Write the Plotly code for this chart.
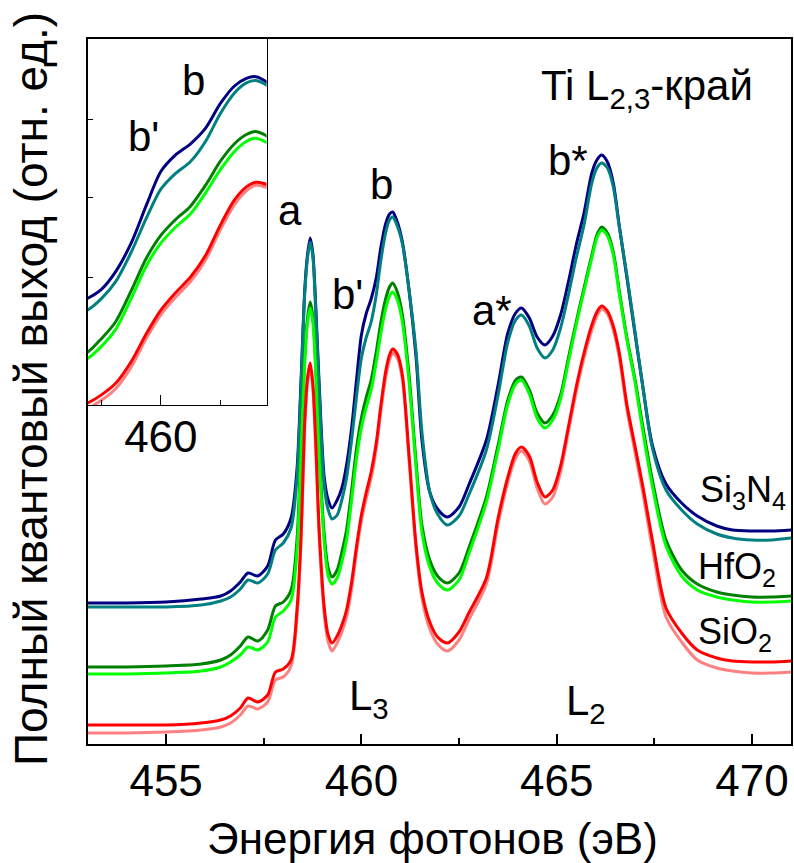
import plotly.graph_objects as go

# Photon energy grid (eV)
energy = [453.0, 454.0, 455.0, 455.9, 456.4, 456.65, 456.9, 457.1, 457.35, 457.6,
          457.8, 458.0, 458.2, 458.35, 458.45, 458.55, 458.62, 458.69, 458.76, 458.83,
          458.92, 459.05, 459.15, 459.25, 459.38, 459.5, 459.62, 459.75, 459.88, 460.0,
          460.12, 460.25, 460.38, 460.5, 460.62, 460.72, 460.8, 460.92, 461.05, 461.22,
          461.4, 461.55, 461.75, 461.95, 462.2, 462.5, 462.75, 463.2, 463.5, 463.75,
          463.95, 464.1, 464.3, 464.5, 464.7, 464.9, 465.1, 465.3, 465.5, 465.7,
          465.9, 466.03, 466.15, 466.3, 466.45, 466.6, 466.8, 467.0, 467.2, 467.45,
          467.8, 468.2, 468.6, 469.1, 469.5, 470.0, 470.5, 471.0]

# Total electron yield (arb. units, curves offset vertically)
si3n4_1 = [141, 141, 142, 145, 148, 153, 162, 171, 168, 178,
           204, 210, 226, 274, 359, 454, 489, 506, 489, 439,
           359, 266, 244, 236, 244, 256, 279, 316, 366, 409,
           430, 445, 466, 497, 520, 530, 532, 522, 502, 454,
           387, 304, 252, 235, 227, 237, 259, 304, 359, 411,
           431, 436, 426, 407, 399, 408, 429, 462, 499, 531,
           571, 584, 589, 582, 561, 519, 466, 412, 359, 299,
           260, 241, 228, 218, 214, 213, 213, 214]
si3n4_2 = [137, 137, 137, 139, 143, 147, 155, 164, 161, 170,
           194, 201, 216, 266, 354, 451, 486, 502, 486, 434,
           352, 258, 234, 225, 229, 244, 266, 304, 349, 386,
           406, 422, 449, 484, 511, 524, 527, 518, 500, 454,
           392, 312, 252, 230, 219, 228, 249, 294, 349, 402,
           424, 429, 418, 396, 386, 394, 416, 449, 486, 519,
           561, 576, 581, 576, 557, 518, 468, 414, 359, 296,
           254, 234, 220, 210, 206, 204, 204, 206]
hfo2_1 = [77, 77, 78, 80, 84, 89, 98, 107, 103, 114,
          138, 142, 154, 204, 294, 389, 426, 442, 426, 379,
          294, 209, 176, 167, 174, 192, 214, 254, 297, 326,
          346, 364, 392, 422, 445, 457, 461, 452, 429, 369,
          282, 219, 184, 168, 161, 171, 196, 247, 299, 344,
          364, 367, 354, 331, 321, 329, 349, 386, 422, 456,
          489, 509, 517, 511, 492, 454, 406, 366, 319, 264,
          204, 174, 160, 152, 149, 147, 147, 148]
hfo2_2 = [70, 70, 71, 73, 77, 82, 89, 97, 94, 102,
          127, 133, 144, 192, 286, 382, 421, 436, 421, 374,
          286, 201, 168, 160, 166, 182, 204, 244, 287, 316,
          336, 354, 382, 411, 435, 448, 452, 444, 422, 362,
          276, 212, 177, 161, 154, 164, 190, 242, 294, 340,
          360, 364, 350, 326, 316, 324, 345, 382, 419, 453,
          486, 506, 514, 508, 489, 451, 404, 363, 314, 258,
          198, 168, 154, 147, 144, 142, 142, 143]
sio2_1 = [19, 19, 19, 21, 24, 28, 36, 46, 42, 49,
          72, 75, 84, 134, 204, 324, 366, 381, 359, 304,
          214, 136, 109, 101, 108, 119, 134, 162, 199, 229,
          251, 272, 301, 339, 372, 389, 395, 390, 369, 289,
          199, 152, 122, 107, 101, 112, 131, 166, 226, 267,
          291, 297, 288, 262, 247, 254, 278, 317, 357, 391,
          419, 432, 438, 433, 418, 392, 339, 299, 259, 204,
          136, 111, 94, 86, 83, 82, 82, 83]
sio2_2 = [11, 11, 12, 14, 17, 21, 29, 38, 35, 42,
          64, 67, 78, 126, 196, 316, 361, 376, 354, 297,
          206, 129, 102, 93, 101, 112, 127, 155, 193, 223,
          245, 266, 295, 333, 366, 384, 391, 386, 364, 284,
          194, 146, 115, 100, 93, 104, 124, 160, 220, 262,
          286, 293, 283, 256, 240, 247, 272, 312, 352, 386,
          414, 428, 435, 430, 414, 387, 334, 293, 252, 196,
          127, 102, 84, 76, 73, 71, 71, 72]

series = [
    (si3n4_1, "#000080"),
    (si3n4_2, "#008080"),
    (hfo2_1, "#008000"),
    (hfo2_2, "#00FF00"),
    (sio2_2, "#FF8080"),
    (sio2_1, "#FF0000"),
]

main_xticks = [455, 460, 465, 470]
main_minor = [457.5, 462.5, 467.5]
inset_xticks = [460]
inset_minor = [459.5, 460.5]
inset_yticks = [272, 375, 477]

FONT = "Liberation Sans, Arial, sans-serif"

fig = go.Figure()
for ys, col in series:
    fig.add_trace(go.Scatter(x=energy, y=ys, mode="lines",
                             line=dict(color=col, width=3, shape="spline", smoothing=0.8),
                             showlegend=False, hoverinfo="skip"))
for ys, col in series:
    fig.add_trace(go.Scatter(x=energy, y=ys, mode="lines", xaxis="x2", yaxis="y2",
                             line=dict(color=col, width=3, shape="spline", smoothing=0.8),
                             showlegend=False, hoverinfo="skip"))

fig.update_layout(
    width=794, height=863,
    margin=dict(l=88, r=1, t=39, b=119),
    paper_bgcolor="white", plot_bgcolor="white",
    font=dict(family=FONT, color="black"),
    xaxis=dict(range=[453, 471], showgrid=False, zeroline=False,
               showline=True, linewidth=2, linecolor="black", mirror=True,
               ticks="inside", ticklen=10, tickwidth=2, tickcolor="black",
               tickmode="array", tickvals=main_xticks,
               tickfont=dict(size=44, family=FONT), ticklabelstandoff=-3,
               minor=dict(ticks="inside", ticklen=6, tickwidth=2, tickcolor="black",
                          tickmode="array", tickvals=main_minor)),
    yaxis=dict(range=[0, 705], showgrid=False, zeroline=False,
               showline=True, linewidth=2, linecolor="black", mirror=True,
               ticks="", showticklabels=False),
    xaxis2=dict(domain=[0, 0.254], anchor="y2", range=[459.387, 460.89],
                showgrid=False, zeroline=False,
                showline=True, linewidth=1, linecolor="black", mirror=True,
                ticks="inside", ticklen=10, tickwidth=1, tickcolor="black",
                tickmode="array", tickvals=inset_xticks,
                tickfont=dict(size=44, family=FONT), ticklabelstandoff=-7,
                minor=dict(ticks="inside", ticklen=5, tickwidth=1, tickcolor="black",
                           tickmode="array", tickvals=inset_minor)),
    yaxis2=dict(domain=[0.481, 1.0], anchor="x2", range=[106, 581],
                showgrid=False, zeroline=False,
                showline=True, linewidth=1, linecolor="black", mirror=True,
                ticks="inside", ticklen=5, tickwidth=1, tickcolor="black",
                tickmode="array", tickvals=inset_yticks, showticklabels=False),
)

def label(text, x, y, size, xanchor="center", xref="x", yref="y"):
    fig.add_annotation(text=text, x=x, y=y, xref=xref, yref=yref,
                       xanchor=xanchor, yanchor="middle", showarrow=False,
                       font=dict(size=size, family=FONT, color="black"))

# peak labels
label("a", 458.18, 534, 42)
label("b", 460.51, 560, 42)
label("b'", 459.64, 450, 42)
label("a*", 463.34, 434, 42)
label("b*", 465.28, 584, 42)
label("L<sub>3</sub>", 459.64, 46, 42, xanchor="left")
label("L<sub>2</sub>", 465.18, 41, 42, xanchor="left")
label("Ti L<sub>2,3</sub>-край", 464.54, 656, 42, xanchor="left")
# sample labels
label("Si<sub>3</sub>N<sub>4</sub>", 468.62, 252, 36, xanchor="left")
label("HfO<sub>2</sub>", 468.57, 175, 36, xanchor="left")
label("SiO<sub>2</sub>", 468.57, 110, 36, xanchor="left")
# inset labels
label("b", 460.277, 527, 42, xref="x2", yref="y2")
label("b'", 459.85, 455, 42, xref="x2", yref="y2")

# axis titles
fig.add_annotation(text="Энергия фотонов (эВ)", x=0.49, y=-0.134, xref="paper", yref="paper",
                   xanchor="center", yanchor="middle", showarrow=False,
                   font=dict(size=44, family=FONT, color="black"))
fig.add_annotation(text="Полный квантовый выход (отн. ед.)", x=-0.081, y=0.5035,
                   xref="paper", yref="paper", textangle=-90,
                   xanchor="center", yanchor="middle", showarrow=False,
                   font=dict(size=46, family=FONT, color="black"))

fig.write_html("out.html")
